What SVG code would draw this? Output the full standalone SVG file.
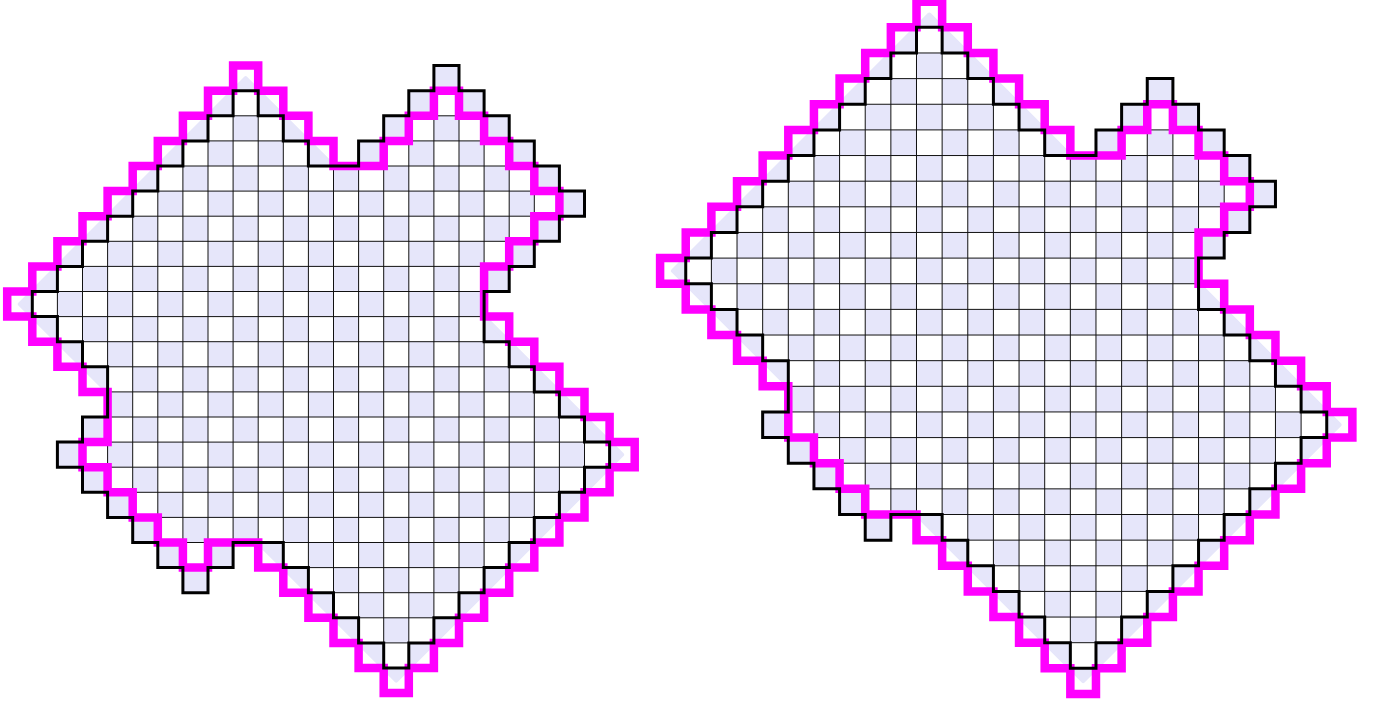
<svg xmlns="http://www.w3.org/2000/svg" xmlns:xlink="http://www.w3.org/1999/xlink" width="1380" height="706" viewBox="0 0 1380 706">
<style>
.lav{fill:#e6e6fa;stroke:#e6e6fa;stroke-width:4;stroke-linejoin:round;vector-effect:non-scaling-stroke}
.base{fill:#e6e6fa;stroke:none}
.chk line{stroke:#ffffff;stroke-width:1;stroke-dasharray:1 1;fill:none}
.grid{fill:none;stroke:#111;stroke-width:1;vector-effect:non-scaling-stroke}
.mag{fill:none;stroke:#ff00ff;stroke-width:8.5;stroke-linejoin:miter}
.blk{fill:none;stroke:#000;stroke-width:3;stroke-linejoin:miter}
</style>
<defs>
<path id="bL" vector-effect="non-scaling-stroke" d="M9 1H10V2H11V3H12V4H14V3H15V2H16V1H17V0H18V1H19V2H20V3H21V4H22V5H23V6H22V7H21V8H20V9H19V11H20V12H21V13H22V14H23V15H24V16H23V17H22V18H21V19H20V20H19V21H18V22H17V23H16V24H15V23H14V22H13V21H12V20H11V19H9V20H8V21H7V20H6V19H5V18H4V17H3V16H2V15H3V14H4V12H3V11H2V10H1V9H2V8H3V7H4V6H5V5H6V4H7V3H8V2H9Z"/>
<path id="mL" vector-effect="non-scaling-stroke" d="M9 0H10V1H11V2H12V3H13V4H15V3H16V2H17V1H18V2H19V3H20V4H21V5H22V6H21V7H20V8H19V10H20V11H21V12H22V13H23V14H24V15H25V16H24V17H23V18H22V19H21V20H20V21H19V22H18V23H17V24H16V25H15V24H14V23H13V22H12V21H11V20H10V19H8V20H7V19H6V18H5V17H4V16H3V15H4V13H3V12H2V11H1V10H0V9H1V8H2V7H3V6H4V5H5V4H6V3H7V2H8V1H9Z"/>
<path id="bR" vector-effect="non-scaling-stroke" d="M10 1H11V2H12V3H13V4H14V5H15V6H17V5H18V4H19V3H20V4H21V5H22V6H23V7H24V8H23V9H22V10H21V12H22V13H23V14H24V15H25V16H26V17H25V18H24V19H23V20H22V21H21V22H20V23H19V24H18V25H17V26H16V25H15V24H14V23H13V22H12V21H11V20H9V21H8V20H7V19H6V18H5V17H4V16H5V14H4V13H3V12H2V11H1V10H2V9H3V8H4V7H5V6H6V5H7V4H8V3H9V2H10Z"/>
<path id="mR" vector-effect="non-scaling-stroke" d="M10 0H11V1H12V2H13V3H14V4H15V5H16V6H18V5H19V4H20V5H21V6H22V7H23V8H22V9H21V11H22V12H23V13H24V14H25V15H26V16H27V17H26V18H25V19H24V20H23V21H22V22H21V23H20V24H19V25H18V26H17V27H16V26H15V25H14V24H13V23H12V22H11V21H10V20H8V19H7V18H6V17H5V15H4V14H3V13H2V12H1V11H0V10H1V9H2V8H3V7H4V6H5V5H6V4H7V3H8V2H9V1H10Z"/>
<clipPath id="clipL"><use xlink:href="#bL"/></clipPath>
<clipPath id="clipR"><use xlink:href="#bR"/></clipPath>
</defs>

<g id="left-figure" transform="translate(7.2 65.6) scale(25.1)">
  <path id="left-true-shape" class="lav" d="M9.5 0.5L13.5 4.5L17.5 0.5L22.5 5.5L18.5 9.5L24.5 15.5L15.5 24.5L10.5 19.5L9.5 18.5L8.5 18.5L7.5 19.5L3.5 15.5L4.5 13.5L0.5 9.5Z"/>
  <use id="left-cells" xlink:href="#bL" class="base"/>
  <g id="left-checker" class="chk" clip-path="url(#clipL)">
    <line x1="0" y1="0.5" x2="26" y2="0.5"/><line x1="1" y1="1.5" x2="26" y2="1.5"/>
    <line x1="0" y1="2.5" x2="26" y2="2.5"/><line x1="1" y1="3.5" x2="26" y2="3.5"/>
    <line x1="0" y1="4.5" x2="26" y2="4.5"/><line x1="1" y1="5.5" x2="26" y2="5.5"/>
    <line x1="0" y1="6.5" x2="26" y2="6.5"/><line x1="1" y1="7.5" x2="26" y2="7.5"/>
    <line x1="0" y1="8.5" x2="26" y2="8.5"/><line x1="1" y1="9.5" x2="26" y2="9.5"/>
    <line x1="0" y1="10.5" x2="26" y2="10.5"/><line x1="1" y1="11.5" x2="26" y2="11.5"/>
    <line x1="0" y1="12.5" x2="26" y2="12.5"/><line x1="1" y1="13.5" x2="26" y2="13.5"/>
    <line x1="0" y1="14.5" x2="26" y2="14.5"/><line x1="1" y1="15.5" x2="26" y2="15.5"/>
    <line x1="0" y1="16.5" x2="26" y2="16.5"/><line x1="1" y1="17.5" x2="26" y2="17.5"/>
    <line x1="0" y1="18.5" x2="26" y2="18.5"/><line x1="1" y1="19.5" x2="26" y2="19.5"/>
    <line x1="0" y1="20.5" x2="26" y2="20.5"/><line x1="1" y1="21.5" x2="26" y2="21.5"/>
    <line x1="0" y1="22.5" x2="26" y2="22.5"/><line x1="1" y1="23.5" x2="26" y2="23.5"/>
  </g>
  <path id="left-grid" class="grid" clip-path="url(#clipL)" d="M0 1H25M0 2H25M0 3H25M0 4H25M0 5H25M0 6H25M0 7H25M0 8H25M0 9H25M0 10H25M0 11H25M0 12H25M0 13H25M0 14H25M0 15H25M0 16H25M0 17H25M0 18H25M0 19H25M0 20H25M0 21H25M0 22H25M0 23H25M1 0V24M2 0V24M3 0V24M4 0V24M5 0V24M6 0V24M7 0V24M8 0V24M9 0V24M10 0V24M11 0V24M12 0V24M13 0V24M14 0V24M15 0V24M16 0V24M17 0V24M18 0V24M19 0V24M20 0V24M21 0V24M22 0V24M23 0V24M24 0V24"/>
  <use id="left-magenta-outline" xlink:href="#mL" class="mag"/>
  <use id="left-black-outline" xlink:href="#bL" class="blk"/>
</g>

<g id="right-figure" transform="translate(660.1 1.7) scale(25.64)">
  <path id="right-true-shape" class="lav" d="M10.5 0.5L16.5 6.5L19.5 3.5L23.5 7.5L20.5 10.5L26.5 16.5L16.5 26.5L10.5 20.5L9.5 19.5L8.5 19.5L5.5 16.5L5.5 15.5L0.5 10.5Z"/>
  <use id="right-cells" xlink:href="#bR" class="base"/>
  <g id="right-checker" class="chk" clip-path="url(#clipR)">
    <line x1="0" y1="1.5" x2="28" y2="1.5"/><line x1="1" y1="2.5" x2="28" y2="2.5"/>
    <line x1="0" y1="3.5" x2="28" y2="3.5"/><line x1="1" y1="4.5" x2="28" y2="4.5"/>
    <line x1="0" y1="5.5" x2="28" y2="5.5"/><line x1="1" y1="6.5" x2="28" y2="6.5"/>
    <line x1="0" y1="7.5" x2="28" y2="7.5"/><line x1="1" y1="8.5" x2="28" y2="8.5"/>
    <line x1="0" y1="9.5" x2="28" y2="9.5"/><line x1="1" y1="10.5" x2="28" y2="10.5"/>
    <line x1="0" y1="11.5" x2="28" y2="11.5"/><line x1="1" y1="12.5" x2="28" y2="12.5"/>
    <line x1="0" y1="13.5" x2="28" y2="13.5"/><line x1="1" y1="14.5" x2="28" y2="14.5"/>
    <line x1="0" y1="15.5" x2="28" y2="15.5"/><line x1="1" y1="16.5" x2="28" y2="16.5"/>
    <line x1="0" y1="17.5" x2="28" y2="17.5"/><line x1="1" y1="18.5" x2="28" y2="18.5"/>
    <line x1="0" y1="19.5" x2="28" y2="19.5"/><line x1="1" y1="20.5" x2="28" y2="20.5"/>
    <line x1="0" y1="21.5" x2="28" y2="21.5"/><line x1="1" y1="22.5" x2="28" y2="22.5"/>
    <line x1="0" y1="23.5" x2="28" y2="23.5"/><line x1="1" y1="24.5" x2="28" y2="24.5"/>
    <line x1="0" y1="25.5" x2="28" y2="25.5"/>
  </g>
  <path id="right-grid" class="grid" clip-path="url(#clipR)" d="M0 1H27M0 2H27M0 3H27M0 4H27M0 5H27M0 6H27M0 7H27M0 8H27M0 9H27M0 10H27M0 11H27M0 12H27M0 13H27M0 14H27M0 15H27M0 16H27M0 17H27M0 18H27M0 19H27M0 20H27M0 21H27M0 22H27M0 23H27M0 24H27M0 25H27M1 0V26M2 0V26M3 0V26M4 0V26M5 0V26M6 0V26M7 0V26M8 0V26M9 0V26M10 0V26M11 0V26M12 0V26M13 0V26M14 0V26M15 0V26M16 0V26M17 0V26M18 0V26M19 0V26M20 0V26M21 0V26M22 0V26M23 0V26M24 0V26M25 0V26M26 0V26"/>
  <use id="right-magenta-outline" xlink:href="#mR" class="mag"/>
  <use id="right-black-outline" xlink:href="#bR" class="blk"/>
</g>
</svg>
